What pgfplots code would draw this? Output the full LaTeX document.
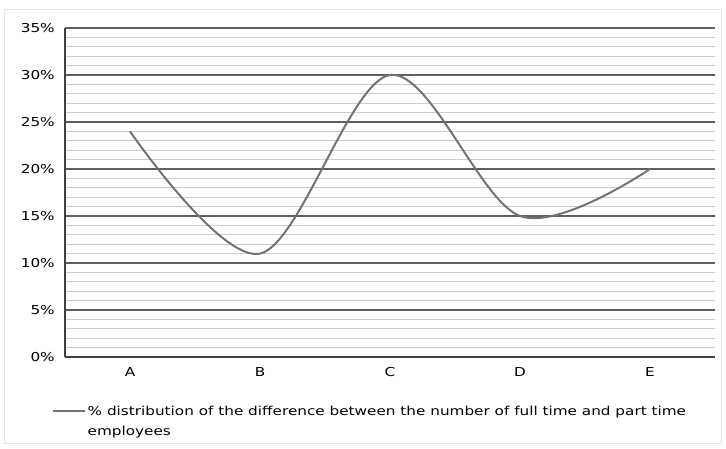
\documentclass[border=0pt]{standalone}
\usepackage{fontspec}
\setmainfont{DejaVu Sans}[FakeStretch=1.24]
\usepackage{pgfplots}
\pgfplotsset{compat=1.18}
\definecolor{linegray}{RGB}{115,115,115}
\definecolor{majgrid}{RGB}{95,95,95}
\definecolor{mingrid}{RGB}{205,205,205}
\begin{document}
\fontsize{12.3pt}{18pt}\selectfont
\begin{tikzpicture}
\useasboundingbox (-65pt,-91pt) rectangle (661pt,357pt);
\draw[black!10, line width=1pt] (-60pt,-86pt) rectangle (656pt,347pt);
\begin{axis}[
  scale only axis,
  width=650pt, height=329pt,
  xmin=-0.5, xmax=4.5,
  ymin=0, ymax=35,
  xtick={0,1,2,3,4},
  xticklabels={A,B,C,D,E},
  ytick={0,5,...,35},
  yticklabel={\pgfmathprintnumber{\tick}\%},
  /pgf/number format/assume math mode=true,
  minor y tick num=4,
  ymajorgrids, yminorgrids,
  major grid style={majgrid, line width=1.4pt},
  minor grid style={mingrid, line width=0.8pt},
  axis x line*=bottom,
  axis y line*=left,
  axis line style={black!75, line width=1.2pt},
  major tick length=0pt, minor tick length=0pt,
  tick style={draw=none},
  xticklabel style={yshift=-6pt},
  yticklabel style={xshift=-6pt},
  legend style={at={(axis description cs:0,0)}, anchor=north west, xshift=-13pt, yshift=-47pt, draw=none, fill=none, legend cell align=left, inner sep=0pt, nodes={inner sep=1.5pt}},
  legend image code/.code={\draw[#1, line width=2pt] (0pt,0pt) -- (32pt,0pt);},
]
\addplot[linegray, line width=2pt, smooth, tension=0.55] coordinates {
  (0,24) (1,11) (2,30) (3,15) (4,20)
};
\addlegendentry{\parbox[t]{640pt}{\raggedright\baselineskip=20pt \% distribution of the difference between the number of full time and part time\\employees}}
\end{axis}
\end{tikzpicture}
\end{document}
